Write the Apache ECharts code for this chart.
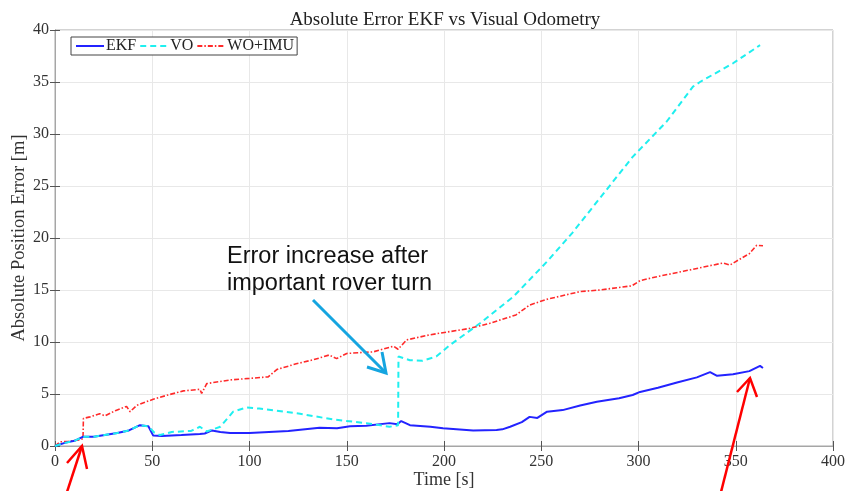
<!DOCTYPE html>
<html>
<head>
<meta charset="utf-8">
<script src="https://cdn.jsdelivr.net/npm/echarts@6/dist/echarts.min.js"></script>
<style>
  html, body { margin: 0; padding: 0; background: #fff; }
  #chart { width: 850px; height: 491px; }
</style>
</head>
<body>
<div id="chart"></div>
<script>
// EKF absolute error
var ekfTime = [0, 5, 10, 14.5, 20, 32, 38, 43.7, 48, 50.5, 55, 65, 74.5, 77, 80.7, 85, 90, 100, 110, 120, 136, 145, 151.7, 160, 172, 176, 178, 182.5, 193, 199.5, 215, 227, 230, 234, 240, 244, 248, 253, 261, 270, 278.6, 290, 297, 300.8, 310, 319.8, 330, 336.8, 340.4, 348.6, 357, 362.5, 364];
var ekfErr = [0, 0.3, 0.5, 0.9, 0.9, 1.25, 1.5, 2.0, 1.9, 1.0, 0.95, 1.05, 1.15, 1.2, 1.5, 1.35, 1.25, 1.25, 1.35, 1.45, 1.75, 1.7, 1.9, 1.95, 2.2, 2.1, 2.4, 2.0, 1.85, 1.7, 1.5, 1.55, 1.6, 1.85, 2.3, 2.8, 2.7, 3.3, 3.45, 3.9, 4.25, 4.6, 4.9, 5.2, 5.6, 6.1, 6.6, 7.1, 6.75, 6.9, 7.2, 7.7, 7.5];

// Visual odometry error
var voTime = [0, 5, 10, 14.5, 20, 32, 38, 43.7, 48, 51, 54, 60, 70, 74.5, 78, 85, 91.6, 98.5, 105, 114, 126, 143, 160, 172, 176.4, 176.6, 182.5, 189, 196, 203, 218.5, 235.6, 252.8, 266, 280, 297, 314.5, 328, 331.6, 348.6, 362.5];
var voErr = [0, 0.3, 0.5, 0.9, 0.9, 1.25, 1.5, 2.0, 1.9, 1.3, 1.05, 1.35, 1.45, 1.85, 1.4, 1.85, 3.3, 3.7, 3.6, 3.4, 3.1, 2.55, 2.2, 1.85, 2.0, 8.6, 8.25, 8.2, 8.6, 9.7, 11.8, 14.35, 17.7, 20.5, 23.8, 27.8, 31.2, 34.55, 35.0, 36.8, 38.55];

// Wheel odometry + IMU error
var wiTime = [0, 2.6, 7, 12.9, 14.4, 14.6, 18, 23, 25.7, 31, 36.8, 38.6, 42, 50.5, 58, 66, 74.5, 75.4, 78, 90, 100, 109.6, 114, 124, 133, 141, 144.8, 150, 163.6, 174, 176.4, 180.8, 193, 213, 223.6, 237, 244, 252.8, 270, 280, 296.5, 300.8, 310, 323, 343.5, 347, 357, 360.8, 364];
var wiErr = [0, 0.4, 0.45, 0.6, 0.7, 2.65, 2.8, 3.1, 2.9, 3.4, 3.8, 3.3, 3.9, 4.5, 4.9, 5.3, 5.45, 5.05, 6.0, 6.35, 6.5, 6.65, 7.35, 7.9, 8.3, 8.75, 8.4, 8.9, 9.05, 9.6, 9.3, 10.2, 10.7, 11.3, 11.8, 12.6, 13.55, 14.1, 14.85, 15.0, 15.4, 15.9, 16.3, 16.8, 17.6, 17.4, 18.5, 19.3, 19.25];

function pairs(t, v) {
  var out = [];
  for (var i = 0; i < t.length; i++) {
    out.push([t[i], v[i]]);
  }
  return out;
}

var serif = 'Liberation Serif';
var sans = 'Liberation Sans';

var chart = echarts.init(document.getElementById('chart'));

var option = {
  backgroundColor: '#fff',
  animation: false,
  title: {
    text: 'Absolute Error EKF vs Visual Odometry',
    left: 440,
    textAlign: 'center',
    top: 6,
    textStyle: { fontFamily: serif, fontSize: 19, fontWeight: 'normal', color: '#222' }
  },
  legend: {
    data: ['EKF', 'VO', 'WO+IMU'],
    left: 71,
    top: 37,
    padding: [1, 3, 1, 4],
    itemGap: 3,
    itemWidth: 28,
    itemHeight: 10,
    borderColor: '#444',
    borderWidth: 1,
    backgroundColor: '#fff',
    itemStyle: { opacity: 0 },
    textStyle: { fontFamily: serif, fontSize: 16, color: '#222', padding: [0, 0, 0, -3] }
  },
  grid: {
    left: 55,
    right: 17,
    top: 30,
    bottom: 45,
    outerBoundsMode: 'none',
    show: true,
    borderColor: '#a6a6a6',
    borderWidth: 1
  },
  xAxis: [{
    type: 'value',
    min: 0,
    max: 400,
    interval: 50,
    name: 'Time [s]',
    nameLocation: 'middle',
    nameGap: 25,
    nameMoveOverlap: false,
    nameTextStyle: { fontFamily: serif, fontSize: 18, color: '#333' },
    axisLine: { show: true, lineStyle: { color: '#a6a6a6' } },
    axisTick: { inside: true, length: 5, lineStyle: { color: '#555' } },
    axisLabel: { fontFamily: serif, fontSize: 16, color: '#333', margin: 8 },
    splitLine: { lineStyle: { color: '#e8e8e8' } }
  }, {
    type: 'value',
    position: 'top',
    min: 0,
    max: 400,
    interval: 50,
    axisLine: { show: true, lineStyle: { color: '#a6a6a6' } },
    axisTick: { inside: true, length: 5, lineStyle: { color: '#555' } },
    axisLabel: { show: false },
    splitLine: { show: false }
  }],
  yAxis: [{
    type: 'value',
    min: 0,
    max: 40,
    interval: 5,
    name: 'Absolute Position Error [m]',
    nameLocation: 'middle',
    nameGap: 26,
    nameMoveOverlap: false,
    nameTextStyle: { fontFamily: serif, fontSize: 18.5, color: '#333' },
    axisLine: { show: true, lineStyle: { color: '#a6a6a6' } },
    axisTick: { inside: true, length: 5, lineStyle: { color: '#555' } },
    axisLabel: { fontFamily: serif, fontSize: 16, color: '#333', margin: 6 },
    splitLine: { lineStyle: { color: '#e8e8e8' } }
  }, {
    type: 'value',
    position: 'right',
    min: 0,
    max: 40,
    interval: 5,
    axisLine: { show: true, lineStyle: { color: '#a6a6a6' } },
    axisTick: { inside: true, length: 5, lineStyle: { color: '#555' } },
    axisLabel: { show: false },
    splitLine: { show: false }
  }],
  series: [{
    name: 'EKF',
    type: 'line',
    symbol: 'none',
    data: pairs(ekfTime, ekfErr),
    lineStyle: { color: '#2323ff', width: 2 },
    itemStyle: { color: '#2323ff' },
    z: 3
  }, {
    name: 'VO',
    type: 'line',
    symbol: 'none',
    data: pairs(voTime, voErr),
    lineStyle: { color: '#1fefef', width: 2, type: [6, 4] },
    itemStyle: { color: '#1fefef' },
    z: 4
  }, {
    name: 'WO+IMU',
    type: 'line',
    symbol: 'none',
    data: pairs(wiTime, wiErr),
    lineStyle: { color: '#ff2a2a', width: 1.6, type: [5, 2, 1.5, 2] },
    itemStyle: { color: '#ff2a2a' },
    z: 2
  }],
  graphic: [{
    type: 'text',
    left: 227,
    top: 243,
    style: {
      text: 'Error increase after\nimportant rover turn',
      fontFamily: sans,
      fontSize: 23.5,
      lineHeight: 27,
      fill: '#111'
    },
    z: 10
  }, {
    type: 'polyline',
    shape: { points: [[313, 300], [386, 373]] },
    style: { stroke: '#15a5e0', lineWidth: 3, fill: null },
    z: 10
  }, {
    type: 'polyline',
    shape: { points: [[367, 367], [386, 373], [382, 352]] },
    style: { stroke: '#15a5e0', lineWidth: 3, fill: null },
    z: 10
  }, {
    type: 'polyline',
    shape: { points: [[67, 492], [82, 446]] },
    style: { stroke: '#ff0000', lineWidth: 2.5, fill: null },
    z: 10
  }, {
    type: 'polyline',
    shape: { points: [[67, 463], [82, 446], [87, 469]] },
    style: { stroke: '#ff0000', lineWidth: 2.5, fill: null },
    z: 10
  }, {
    type: 'polyline',
    shape: { points: [[721, 492], [750, 378]] },
    style: { stroke: '#ff0000', lineWidth: 2.5, fill: null },
    z: 10
  }, {
    type: 'polyline',
    shape: { points: [[737, 392], [750, 378], [757, 397]] },
    style: { stroke: '#ff0000', lineWidth: 2.5, fill: null },
    z: 10
  }]
};

chart.setOption(option);
</script>
</body>
</html>
